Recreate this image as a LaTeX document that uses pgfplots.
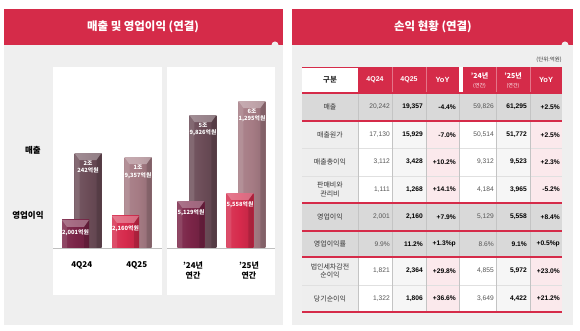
\documentclass[border=0pt]{standalone}
\usepackage{fontspec}
\setmainfont{Noto Sans CJK KR}
\newfontfamily\num{Liberation Sans}
\usepackage{pgfplots}
\pgfplotsset{compat=1.18}

\definecolor{hdr}{HTML}{D52B49}
\definecolor{bgp}{HTML}{EFEFEF}
\definecolor{revD}{HTML}{6B4C57}
\definecolor{revL}{HTML}{A57B84}
\definecolor{opD}{HTML}{7A2447}
\definecolor{opL}{HTML}{D62A4C}
\definecolor{rowg}{HTML}{D9D9D9}
\definecolor{colg}{HTML}{EEEEEE}
\definecolor{lightc}{HTML}{F6F6F6}
\definecolor{pinkc}{HTML}{FBE9EC}
\definecolor{vline}{HTML}{C4C4C4}
\definecolor{txt}{HTML}{333333}
\definecolor{txtg}{HTML}{555555}

\newcommand{\fs}[1]{\fontsize{#1}{#1}\selectfont}
\newcommand{\ppb}[1]{\pgfpointanchor{path picture bounding box}{#1}}

\tikzset{
  bevel/.style={path picture={%
    \pgfscope
    \pgfsetfillcolor{white}\pgfsetfillopacity{0.32}%
    \pgfpathmoveto{\ppb{north west}}%
    \pgfpathlineto{\ppb{north east}}%
    \pgfpathlineto{\pgfpointadd{\ppb{north east}}{\pgfpoint{-5bp}{-7bp}}}%
    \pgfpathlineto{\pgfpointadd{\ppb{north west}}{\pgfpoint{5bp}{-7bp}}}%
    \pgfpathclose
    \pgfusepath{fill}%
    \pgfsetfillcolor{black}\pgfsetfillopacity{0.12}%
    \pgfpathmoveto{\ppb{north east}}%
    \pgfpathlineto{\pgfpointadd{\ppb{north east}}{\pgfpoint{-5bp}{-7bp}}}%
    \pgfpathlineto{\pgfpointadd{\ppb{south east}}{\pgfpoint{-5bp}{0bp}}}%
    \pgfpathlineto{\ppb{south east}}%
    \pgfpathclose
    \pgfusepath{fill}%
    \pgfsetfillcolor{white}\pgfsetfillopacity{0.10}%
    \pgfpathmoveto{\ppb{north west}}%
    \pgfpathlineto{\pgfpointadd{\ppb{north west}}{\pgfpoint{5bp}{-7bp}}}%
    \pgfpathlineto{\pgfpointadd{\ppb{south west}}{\pgfpoint{5bp}{0bp}}}%
    \pgfpathlineto{\ppb{south west}}%
    \pgfpathclose
    \pgfusepath{fill}%
    \pgfsetfillopacity{1}%
    \endpgfscope
  }},
  bar3d/.style={draw=none, left color=#1!92!white, right color=#1!88!black, middle color=#1, bevel},
}
\pgfplotsset{
  barpanel/.style={scale only axis, ybar, bar width=27bp, anchor=south west,
    axis line style={draw=none}, major tick length=0pt, ytick=\empty,
    xticklabel style={font=\fontsize{8}{10.5}\selectfont\bfseries, align=center, anchor=north, inner sep=0pt, yshift=-13.5bp},
    clip=true},
  vlab/.style={every node near coord/.append style={anchor=north, yshift=#1, text=white, text opacity=1, font=\fontsize{5.8}{7.2}\selectfont\bfseries, align=center, inner sep=0pt}},
}

\newcommand{\trow}[8]{%
  \node[font=\fontsize{7}{8.5}\selectfont, text=txt, align=center] at (330,#1) {#2};
  \node[font=\num\fs{6.7}, text=txtg, anchor=east, inner sep=0pt] at (390,#1) {#3};
  \node[font=\num\bfseries\fs{6.7}, anchor=east, inner sep=0pt] at (423,#1) {#4};
  \node[font=\num\bfseries\fs{6.7}, anchor=east, inner sep=0pt] at (456,#1) {#5};
  \node[font=\num\fs{6.7}, text=txtg, anchor=east, inner sep=0pt] at (494,#1) {#6};
  \node[font=\num\bfseries\fs{6.7}, anchor=east, inner sep=0pt] at (527,#1) {#7};
  \node[font=\num\bfseries\fs{6.7}, anchor=east, inner sep=0pt] at (560,#1) {#8};
}

\begin{document}
\begin{tikzpicture}
% ---------- backgrounds ----------
\begin{scope}[shift={(0,331bp)}, x=1bp, y=-1bp]
  \fill[white] (0,0) rectangle (580,331);
  \fill[bgp] (4,45) rectangle (283,325);
  \fill[hdr] (4,9) rectangle (283,45);
  \fill[bgp] (275,45) circle (3.5);
  \fill[bgp] (292,45) rectangle (573,325);
  \fill[hdr] (292,9) rectangle (573,45);
  \fill[bgp] (565,45) circle (3.5);
  \node[text=white, font=\fontsize{11.5}{13}\selectfont\bfseries] at (143,27) {매출 및 영업이익 (연결)};
  \node[text=white, font=\fontsize{11.5}{13}\selectfont\bfseries] at (433,27) {손익 현황 (연결)};
  \fill[white] (53,67) rectangle (162,295);
  \fill[white] (167,67) rectangle (275,295);
  \node[font=\fontsize{8.5}{10}\selectfont\bfseries] at (33,150) {매출};
  \node[font=\fontsize{8.5}{10}\selectfont\bfseries] at (28,215) {영업이익};
\end{scope}

% ---------- quarterly: revenue ----------
\begin{axis}[barpanel, at={(53bp,83bp)}, width=109bp, height=181bp,
  xmin=-0.575, xmax=1.605, ymin=0, ymax=38568,
  xtick={0,1.1}, xticklabels={4Q24,4Q25}]
\addplot[bar3d=revD, bar shift=6.25bp, vlab=-8bp, nodes near coords={2조\\242억원}] coordinates {(0,20242)};
\addplot[bar3d=revL, bar shift=6.25bp, vlab=-8bp, nodes near coords={1조\\9,357억원}] coordinates {(1,19357)};
\end{axis}
% ---------- quarterly: operating profit ----------
\begin{axis}[barpanel, hide axis, at={(53bp,83bp)}, width=109bp, height=181bp,
  xmin=-0.575, xmax=1.605, ymin=888, ymax=8082]
\addplot[bar3d=opD, bar shift=-6.25bp, vlab=-9bp, nodes near coords={2,001억원}] coordinates {(0,2001)};
\addplot[bar3d=opL, bar shift=-6.25bp, vlab=-9bp, nodes near coords={2,160억원}] coordinates {(1,2160)};
\end{axis}

% ---------- annual: revenue ----------
\begin{axis}[barpanel, at={(167bp,83bp)}, width=108bp, height=181bp,
  xmin=-0.612, xmax=1.592, ymin=45870, ymax=64863,
  xtick={-0.08,1.06}, xticklabels={’24년\\연간,’25년\\연간}]
\addplot[bar3d=revD, bar shift=6bp, vlab=-8bp, nodes near coords={5조\\9,826억원}] coordinates {(0,59826)};
\addplot[bar3d=revL, bar shift=6bp, vlab=-8bp, nodes near coords={6조\\1,295억원}] coordinates {(1,61295)};
\end{axis}
% ---------- annual: operating profit ----------
\begin{axis}[barpanel, hide axis, at={(167bp,83bp)}, width=108bp, height=181bp,
  xmin=-0.612, xmax=1.592, ymin=2609, ymax=12315]
\addplot[bar3d=opD, bar shift=-6bp, vlab=-8bp, nodes near coords={5,129억원}] coordinates {(0,5129)};
\addplot[bar3d=opL, bar shift=-6bp, vlab=-8bp, nodes near coords={5,558억원}] coordinates {(1,5558)};
\end{axis}

% ---------- table ----------
\begin{scope}[shift={(0,331bp)}, x=1bp, y=-1bp]
  \draw[black!25, line width=0.8] (53,248.5) -- (162,248.5);
  \draw[black!25, line width=0.8] (167,248.5) -- (275,248.5);

  \node[anchor=east, font=\fs{5.5}, text=txt, inner sep=0pt] at (562,60) {(단위:억원)};
  % header
  \fill[white] (302,67) rectangle (358,93);
  \fill[hdr] (358,67) rectangle (459,93);
  \fill[white] (459,67) rectangle (463,93);
  \fill[hdr] (463,67) rectangle (562,93);
  \foreach \x in {392,426,496,530} \draw[hdr!65!white, line width=0.5] (\x,67) -- (\x,93);
  \draw[hdr, line width=1] (302,67.5) -- (358,67.5);
  % body fills
  \fill[rowg] (302,93) rectangle (562,121);
  \foreach \ya/\yb in {121/203, 257/312} {
    \fill[colg] (302,\ya) rectangle (358,\yb);
    \fill[white] (358,\ya) rectangle (392,\yb);
    \fill[lightc] (392,\ya) rectangle (426,\yb);
    \fill[pinkc] (426,\ya) rectangle (459,\yb);
    \fill[white] (459,\ya) rectangle (496,\yb);
    \fill[lightc] (496,\ya) rectangle (530,\yb);
    \fill[pinkc] (530,\ya) rectangle (562,\yb);
  }
  \fill[rowg] (302,203) rectangle (562,257);
  \foreach \y in {148.5,176,285} \draw[black!12, line width=0.4] (302,\y) -- (562,\y);
  \foreach \x in {358,392,426,459,496,530} \draw[vline, line width=0.8] (\x,93) -- (\x,312);
  \foreach \y in {93,121,203,231,257,312} \draw[hdr, line width=1.1] (302,\y) -- (562,\y);
  % header text
  \node[font=\fs{7.5}\bfseries, text=txt] at (330,80) {구분};
  \node[font=\num\bfseries\fs{7}, text=white] at (375,80) {4Q24};
  \node[font=\num\bfseries\fs{7}, text=white] at (409,80) {4Q25};
  \node[font=\num\bfseries\fs{7.5}, text=white] at (442.5,80) {YoY};
  \node[font=\fs{7}\bfseries, text=white] at (479.5,75.5) {’24년};
  \node[font=\fs{5}, text=white] at (479.5,86) {(연간)};
  \node[font=\fs{7}\bfseries, text=white] at (513,75.5) {’25년};
  \node[font=\fs{5}, text=white] at (513,86) {(연간)};
  \node[font=\num\bfseries\fs{7.5}, text=white] at (546,80) {YoY};
  % rows
  \trow{107}{매출}{20,242}{19,357}{-4.4\%}{59,826}{61,295}{+2.5\%}
  \trow{135}{매출원가}{17,130}{15,929}{-7.0\%}{50,514}{51,772}{+2.5\%}
  \trow{162}{매출총이익}{3,112}{3,428}{+10.2\%}{9,312}{9,523}{+2.3\%}
  \trow{189.5}{판매비와\\관리비}{1,111}{1,268}{+14.1\%}{4,184}{3,965}{-5.2\%}
  \trow{217}{영업이익}{2,001}{2,160}{+7.9\%}{5,129}{5,558}{+8.4\%}
  \trow{244}{영업이익률}{9.9\%}{11.2\%}{+1.3\%p}{8.6\%}{9.1\%}{+0.5\%p}
  \trow{271}{법인세차감전\\순이익}{1,821}{2,364}{+29.8\%}{4,855}{5,972}{+23.0\%}
  \trow{298.5}{당기순이익}{1,322}{1,806}{+36.6\%}{3,649}{4,422}{+21.2\%}
\end{scope}
\pgfresetboundingbox
\useasboundingbox (0,0) rectangle (580bp,331bp);
\end{tikzpicture}
\end{document}
